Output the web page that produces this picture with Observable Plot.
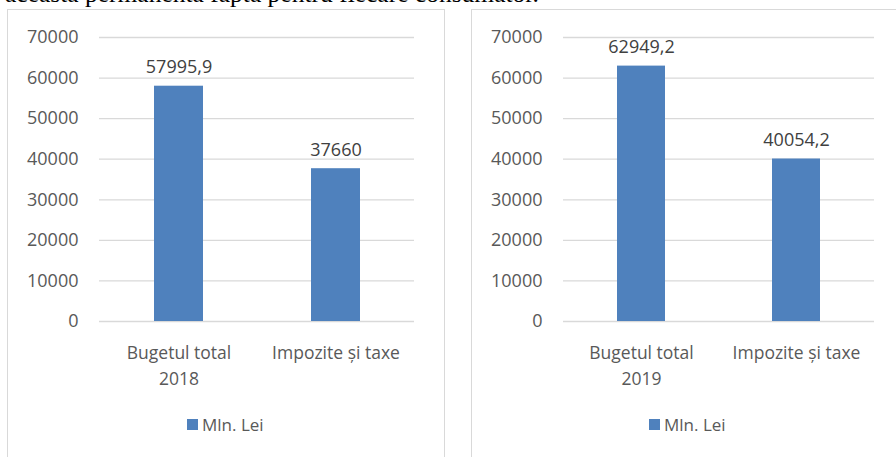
<!DOCTYPE html>
<html>
<head>
<meta charset="utf-8">
<script src="https://cdn.jsdelivr.net/npm/d3@7"></script>
<script src="https://cdn.jsdelivr.net/npm/@observablehq/plot@0.6"></script>
<style>
  html, body { margin: 0; padding: 0; background: #fff; }
  #page { position: relative; width: 896px; height: 457px; overflow: hidden; background: #fff; }
  .topline { position: absolute; left: 5px; top: -18px; font-family: "Liberation Serif", "Times New Roman", serif; font-size: 25.5px; line-height: 24px; color: #000; white-space: nowrap; }
  .panel { position: absolute; border: 1px solid #D9D9D9; box-sizing: border-box; background: #fff; }
  .plot { position: absolute; }
  .legend { position: absolute; font-family: "Open Sans", sans-serif; font-size: 17px; color: #595959; display: flex; align-items: center; white-space: nowrap; }
  .legend .sw { display: inline-block; width: 11px; height: 11px; background: #4F81BD; margin-right: 4px; }
</style>
</head>
<body>
<div id="page">
  <div class="topline">aceasta permanenta fapta pentru fiecare consumator.</div>
  <div class="panel" style="left:7px; top:9px; width:438px; height:460px;"></div>
  <div class="panel" style="left:471px; top:9px; width:440px; height:460px;"></div>
</div>
<script>
const categories2018 = ["Bugetul total\n2018", "Impozite și taxe"];
const values2018 = [57995.9, 37660];
const categories2019 = ["Bugetul total\n2019", "Impozite și taxe"];
const values2019 = [62949.2, 40054.2];
const yTicks = [0, 10000, 20000, 30000, 40000, 50000, 60000, 70000];
const seriesName = "Mln. Lei";
const barColor = "#4F81BD";

function makeChart(categories, values, width, marginRight) {
  const data = categories.map((c, i) => ({category: c, value: values[i]}));
  return Plot.plot({
    width: width,
    height: 390,
    marginLeft: 92,
    marginRight: marginRight,
    marginTop: 28,
    marginBottom: 78,
    style: {fontFamily: "Open Sans, sans-serif", background: "transparent", overflow: "visible"},
    x: {domain: categories, paddingInner: 0.69, paddingOuter: 0.345, axis: null},
    y: {domain: [0, 70000], ticks: yTicks, axis: null, label: null},
    marks: [
      Plot.gridY(yTicks, {stroke: "#D9D9D9", strokeOpacity: 1, strokeWidth: 1.3}),
      Plot.axisY(yTicks, {label: null, tickSize: 0, tickPadding: 21, fontSize: 18, fill: "#595959", tickFormat: d => String(d)}),
      Plot.barY(data, {x: "category", y: "value", fill: barColor}),
      Plot.text(data, {x: "category", y: "value", text: d => String(d.value).replace(".", ","), lineAnchor: "bottom", dy: -13, fontSize: 18, fill: "#404040"}),
      Plot.text(categories, {x: d => d, text: d => d, frameAnchor: "bottom", lineAnchor: "top", dy: 19, fontSize: 17.5, lineHeight: 1.5, fill: "#595959"})
    ]
  });
}

const page = document.getElementById("page");
const c1 = makeChart(categories2018, values2018, 437, 30);
c1.classList.add("plot");
c1.style.left = "7px"; c1.style.top = "9px";
page.appendChild(c1);
const c2 = makeChart(categories2019, values2019, 425, 22);
c2.classList.add("plot");
c2.style.left = "471px"; c2.style.top = "9px";
page.appendChild(c2);

function legend(left) {
  const d = document.createElement("div");
  d.className = "legend";
  d.style.left = left + "px";
  d.style.top = "413px";
  d.innerHTML = `<span class="sw"></span><span></span>`;
  d.lastChild.textContent = seriesName;
  page.appendChild(d);
}
legend(187);
legend(649);
</script>
</body>
</html>
